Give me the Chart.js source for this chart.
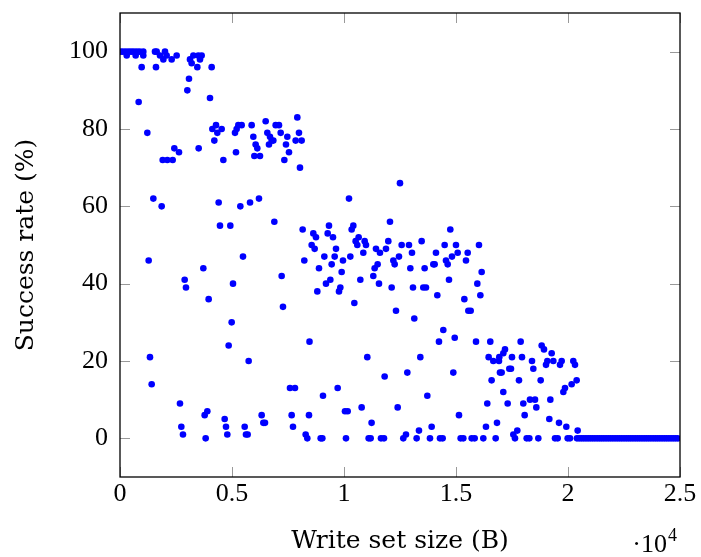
<!DOCTYPE html>
<html>
<head>
<meta charset="utf-8">
<title>Success rate vs write set size</title>
<script src="https://cdn.jsdelivr.net/npm/chart.js@4.4.1/dist/chart.umd.min.js"></script>
<style>
  html, body { margin: 0; padding: 0; background: #fff; }
</style>
</head>
<body>
<canvas id="chart" width="701" height="557"></canvas>
<script>
// measured runs: write set size in bytes, success rate in percent (same order in both arrays)
const writeSetSize = [
  0, 120, 250, 380, 500, 620, 750, 880, 300, 700, 1040, 1040, 1562, 1637, 1786, 2009, 2083, 1935,
  2307, 2530, 3125, 3199, 3274, 3497, 3571, 3646, 967, 1607, 3452, 4092, 3080, 3006, 4018, 833, 1220,
  4122, 4286, 4539, 4345, 4211, 5134, 5208, 5282, 5431, 5878, 5952, 6055, 6130, 5997, 6250, 6503,
  6577, 6696, 6771, 6845, 6651, 6950, 7098, 7173, 7470, 7410, 7544, 7336, 7916, 7990, 7841, 8109,
  8035, 2425, 2634, 1906, 2113, 2352, 3512, 4613, 5178,
  1488, 1860, 4404, 5372, 5805, 6205, 4464, 4925, 6890, 8154, 1280, 5491, 8228, 3720, 2887, 2946,
  5045, 7217, 3958, 7276,
  12500, 10223, 12053, 10416, 10342, 9330, 8630, 8749, 9271, 9509, 10520, 10654, 10594, 10922, 10982,
  10862, 8556, 8690, 9643, 11428, 11606, 11874, 11978, 12574, 12901, 13035, 13466, 14746, 14493,
  14999, 14106, 15075, 15522, 16026, 9122, 9584, 10282, 9955, 9450, 8884, 12202, 12262, 12455, 11502,
  11368, 12961, 13600, 13987, 14047, 14553, 14629, 14821, 15446, 16146, 9896, 11308, 9390, 9196,
  10729, 11562, 9836, 9777, 8809, 12128, 13080, 13540, 13660, 14687, 15952, 16087, 14166, 15372,
  15551, 15655, 10461, 12321, 13138,
  4985, 4851, 5744, 1339, 1414, 7589, 7812, 2678, 3780, 3899, 4673, 2738, 2812, 3824, 4732, 4791,
  5566, 5625, 5700, 6325, 6399, 6473, 7664, 7723, 8288, 8362, 8460, 8437,
  14433, 14240, 14943, 15893, 16530, 16457, 16665, 16919, 16590, 16963, 16397, 16338, 16830, 11040,
  13407, 12827, 14880, 11814, 9718, 9062, 13720, 10788, 12396, 10044, 10164, 15134, 11232, 13347,
  13913, 12767,
  8959, 9033, 10089, 11101, 11190, 11651, 11785, 12647, 13243, 13838, 14285, 14404, 15208, 15327,
  15700, 15833, 16219, 16771,
  17886, 18824, 18928, 17187, 17112, 19271, 16932, 17500, 17946, 18393, 19077, 19018, 19345, 19718,
  19643, 20237, 20312, 17380, 17455, 18452, 17039, 17812, 18780, 20386, 20163, 19866, 19792, 17112,
  18303, 18527, 19211, 17306, 18005, 18586, 18066, 19166, 19598, 19925, 20431, 17737, 17559, 17633,
  18155, 18274, 18675, 19420, 19539, 19985, 20089
];
const successRate = [
  100, 100, 100, 100, 100, 100, 100, 100, 99, 99, 100, 99, 100, 100, 99, 100, 99, 98,
  98, 99, 98, 97, 99, 99, 98, 99, 96, 96, 96, 96, 93, 90, 88, 87, 79,
  80, 81, 80, 79, 77, 79, 80, 81, 81, 81, 78, 76, 75, 73, 73, 82,
  79, 78, 77, 77, 76, 81, 81, 79, 78, 76, 74, 72, 83, 79, 77, 77,
  70, 75, 74, 72, 72, 72, 75, 72, 74,
  62, 60, 61, 60, 61, 62, 55, 55, 56, 54, 46, 47, 46, 44, 41, 39,
  40, 42, 36, 34,
  66, 62, 56, 55, 54, 55, 53, 52, 53, 52, 51, 52, 50, 51, 50,
  48, 50, 49, 49, 49, 48, 49, 51, 50, 50, 48, 51, 54, 50,
  50, 48, 48, 48, 50, 47, 47, 47, 46, 45, 44, 46, 45, 47, 45,
  44, 44, 44, 45, 45, 46, 45, 47, 46, 43, 43, 42, 41, 40,
  41, 40, 39, 38, 38, 39, 39, 39, 39, 41, 40, 37, 37, 36,
  33, 33, 35, 33, 31,
  30, 24, 20, 21, 14, 13, 13, 9, 6, 7, 5, 3, 1, 0, 3, 1,
  3, 1, 1, 6, 4, 4, 6, 3, 1, 0, 25, 6,
  28, 25, 26, 25, 25, 21, 20, 20, 15, 17, 9, 3, 4, 21,
  21, 17, 17, 16, 13, 11, 11, 8, 8, 7, 7, 6, 4, 2,
  3, 1,
  0, 0, 0, 0, 0, 0, 0, 0, 0, 0, 0, 0, 0, 0,
  0, 0, 0, 0,
  25, 24, 23, 23, 22, 22, 21, 21, 21, 20, 20, 19, 20, 20,
  19, 20, 19, 18, 18, 18, 17, 15, 15, 15, 14, 13, 12, 12,
  10, 10, 10, 9, 9, 8, 6, 5, 4, 3, 2, 2, 1, 0,
  0, 0, 0, 0, 0, 0, 0
];
// beyond ~20.4 kB every run failed
const tailSizes = [
  20400, 20500, 20600, 20700, 20800, 20900, 21000, 21100, 21200, 21300, 21400, 21500, 21600, 21700,
  21800, 21900, 22000, 22100, 22200, 22300, 22400, 22500, 22600, 22700, 22800, 22900, 23000, 23100,
  23200, 23300, 23400, 23500, 23600, 23700, 23800, 23900, 24000, 24100, 24200, 24300, 24400, 24500,
  24600, 24700, 24800, 24900
];
const tailRates = [
  0, 0, 0, 0, 0, 0, 0, 0, 0, 0, 0, 0, 0, 0,
  0, 0, 0, 0, 0, 0, 0, 0, 0, 0, 0, 0, 0, 0,
  0, 0, 0, 0, 0, 0, 0, 0, 0, 0, 0, 0, 0, 0,
  0, 0, 0, 0
];

const xTicks = [0, 5000, 10000, 15000, 20000, 25000];
const xTickLabels = ['0', '0.5', '1', '1.5', '2', '2.5'];
const yTicks = [0, 20, 40, 60, 80, 100];

const points = writeSetSize.map((x, i) => ({ x: x, y: successRate[i] }))
  .concat(tailSizes.map((x, i) => ({ x: x, y: tailRates[i] })));

const serif = "'Liberation Serif', serif";
const titleFont = "'DejaVu Serif', serif";

// pgfplots-like frame with inward ticks on all four sides, plus the ·10^4 multiplier
const frame = {
  id: 'frame',
  beforeDatasetsDraw(chart) {
    const { ctx, chartArea: a, scales } = chart;
    ctx.save();
    ctx.strokeStyle = '#999';
    ctx.lineWidth = 1;
    ctx.beginPath();
    xTicks.forEach(v => {
      const px = Math.round(scales.x.getPixelForValue(v)) + 0.5;
      ctx.moveTo(px, a.bottom); ctx.lineTo(px, a.bottom - 10);
      ctx.moveTo(px, a.top); ctx.lineTo(px, a.top + 10);
    });
    yTicks.forEach(v => {
      const py = Math.round(scales.y.getPixelForValue(v)) + 0.5;
      ctx.moveTo(a.left, py); ctx.lineTo(a.left + 10, py);
      ctx.moveTo(a.right, py); ctx.lineTo(a.right - 10, py);
    });
    ctx.stroke();
    ctx.restore();
  },
  afterDraw(chart) {
    const { ctx, chartArea: a } = chart;
    ctx.save();
    ctx.strokeStyle = '#000';
    ctx.lineWidth = 1.3;
    ctx.strokeRect(a.left, a.top, a.right - a.left, a.bottom - a.top);
    ctx.fillStyle = '#000';
    ctx.textBaseline = 'alphabetic';
    ctx.font = '26px ' + serif;
    ctx.textAlign = 'right';
    ctx.fillText('\u00b710', a.right - 13, 552);
    ctx.font = '18px ' + serif;
    ctx.textAlign = 'left';
    ctx.fillText('4', a.right - 12, 541);
    ctx.restore();
  }
};

new Chart(document.getElementById('chart'), {
  type: 'scatter',
  data: {
    datasets: [{
      data: points,
      backgroundColor: '#0000ff',
      borderWidth: 0,
      pointRadius: 3.3,
      pointHoverRadius: 3.3
    }]
  },
  options: {
    responsive: false,
    animation: false,
    devicePixelRatio: 1,
    events: [],
    layout: { padding: { top: 13, right: 21, left: 0, bottom: 0 } },
    plugins: { legend: { display: false }, tooltip: { enabled: false } },
    scales: {
      x: {
        type: 'linear',
        min: 0,
        max: 25000,
        afterBuildTicks: s => { s.ticks = xTicks.map(v => ({ value: v })); },
        afterFit: s => { s.height = 80; s.paddingLeft = 0; s.paddingRight = 0; },
        grid: { display: false, drawTicks: false },
        border: { display: false },
        ticks: {
          color: '#000',
          font: { family: serif, size: 26 },
          padding: 2,
          maxRotation: 0,
          callback: v => xTickLabels[xTicks.indexOf(v)]
        },
        title: {
          display: true,
          text: 'Write set size (B)',
          color: '#000',
          font: { family: titleFont, size: 25 },
          padding: { top: 0, bottom: 1 }
        }
      },
      y: {
        type: 'linear',
        min: -10,
        max: 110,
        afterBuildTicks: s => { s.ticks = yTicks.map(v => ({ value: v })); },
        afterFit: s => { s.width = 120; s.paddingTop = 0; s.paddingBottom = 0; },
        grid: { display: false, drawTicks: false },
        border: { display: false },
        ticks: {
          color: '#000',
          font: { family: serif, size: 26 },
          padding: 12
        },
        title: {
          display: true,
          text: 'Success rate (%)',
          color: '#000',
          font: { family: titleFont, size: 25 },
          padding: { top: 11, bottom: 0 }
        }
      }
    }
  },
  plugins: [frame]
});
</script>
</body>
</html>
